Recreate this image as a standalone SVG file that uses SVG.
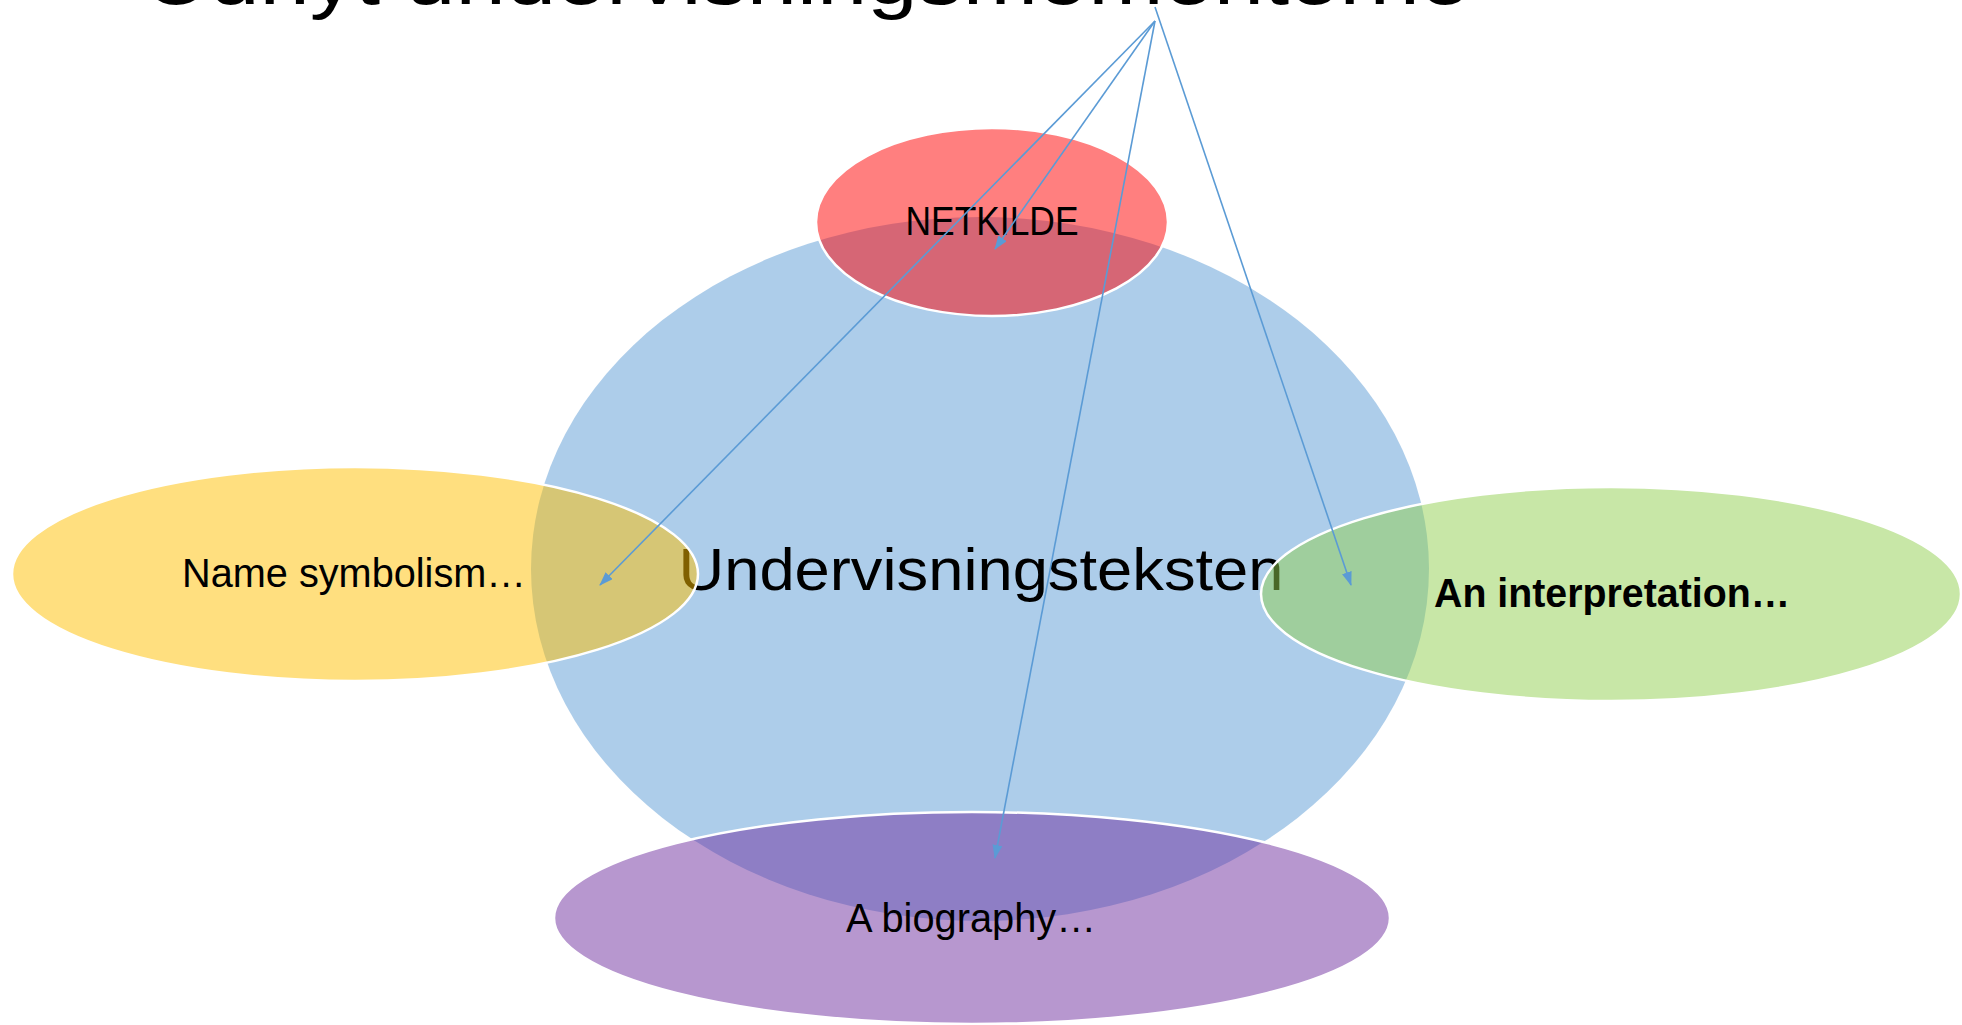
<svg xmlns="http://www.w3.org/2000/svg" width="1962" height="1025" viewBox="0 0 1962 1025">
<defs>
<style>
.shape{fill-opacity:0.5;stroke:#FFFFFF;stroke-width:2.5}
.lbl{font-family:"Liberation Sans",Arial,sans-serif;font-size:40px;fill:#000000;text-anchor:middle}
.conn{stroke:#5B9BD5;stroke-width:1.6;fill:none;marker-end:url(#arr)}
</style>
<marker id="arr" viewBox="0 0 14 10" refX="13" refY="5" markerWidth="14" markerHeight="10" markerUnits="userSpaceOnUse" orient="auto">
<path d="M0,0 L14,5 L0,10 Z" fill="#5B9BD5"/>
</marker>
</defs>
<rect width="1962" height="1025" fill="#FFFFFF"/>
<text x="144" y="4" font-family="'Liberation Sans',Arial,sans-serif" font-size="76" fill="#000000" textLength="1326" lengthAdjust="spacingAndGlyphs">Udnyt undervisningsmomenterne</text>
<g id="center">
<ellipse cx="980" cy="569" rx="449" ry="352" fill="#5B9BD5" fill-opacity="0.5"/>
<text x="981" y="590" class="lbl" textLength="605" lengthAdjust="spacingAndGlyphs" style="font-size:60px">Undervisningsteksten</text>
</g>
<g id="yellow">
<ellipse class="shape" cx="355" cy="574" rx="343" ry="107" fill="#FFBF00"/>
<text x="354" y="587" class="lbl" textLength="344" lengthAdjust="spacingAndGlyphs">Name symbolism…</text>
</g>
<g id="green">
<ellipse class="shape" cx="1611" cy="594" rx="350" ry="107" fill="#92D050"/>
<text x="1612" y="607" class="lbl" font-weight="bold" textLength="356" lengthAdjust="spacingAndGlyphs">An interpretation…</text>
</g>
<g id="red">
<ellipse class="shape" cx="992" cy="222" rx="176" ry="94" fill="#FF0000"/>
<text x="992" y="235" class="lbl" textLength="173" lengthAdjust="spacingAndGlyphs">NETKILDE</text>
</g>
<g id="purple">
<ellipse class="shape" cx="972" cy="918" rx="418" ry="106" fill="#7030A0"/>
<text x="971" y="932" class="lbl" textLength="250" lengthAdjust="spacingAndGlyphs">A biography…</text>
</g>
<g id="connectors">
<line class="conn" x1="1155" y1="21" x2="600" y2="585"/>
<line class="conn" x1="1155" y1="21" x2="995" y2="249"/>
<line class="conn" x1="1155" y1="21" x2="995" y2="858"/>
<line class="conn" x1="1155" y1="7" x2="1351" y2="585"/>
</g>
</svg>
